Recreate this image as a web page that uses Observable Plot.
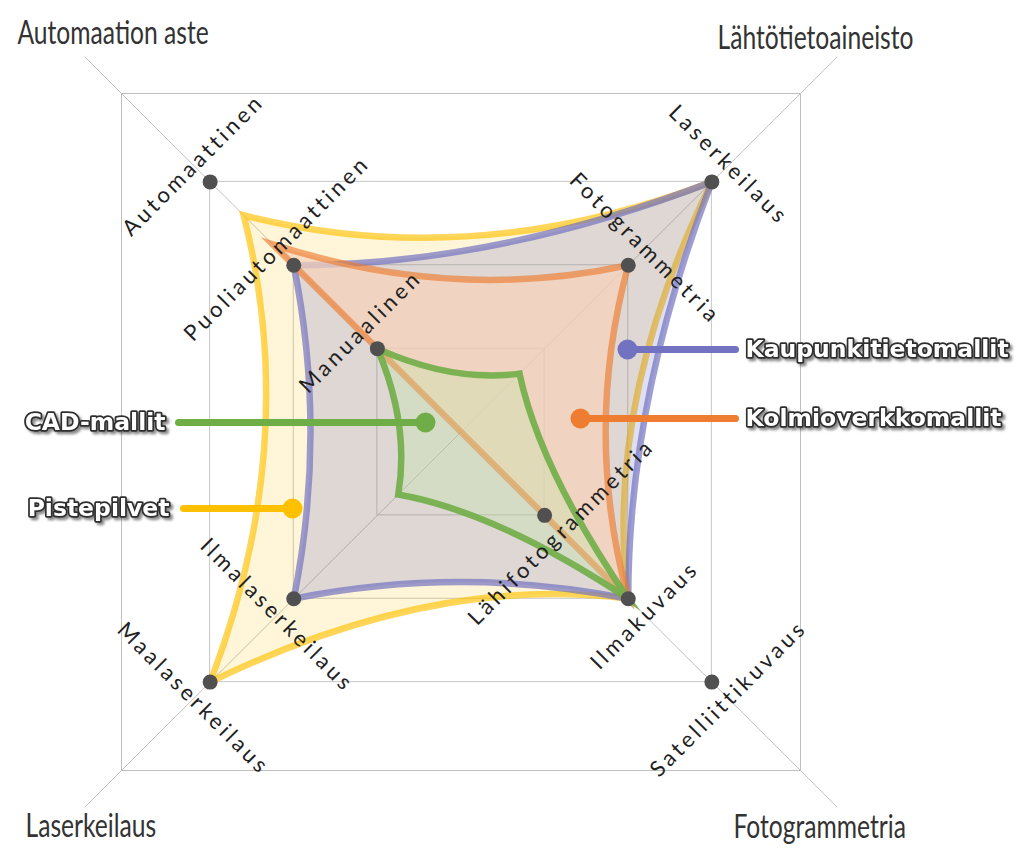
<!DOCTYPE html>
<html>
<head>
<meta charset="utf-8">
<script src="https://cdn.jsdelivr.net/npm/d3@7"></script>
<script src="https://cdn.jsdelivr.net/npm/@observablehq/plot@0.6"></script>
<style>
html, body { margin: 0; padding: 0; background: #fff; }
</style>
</head>
<body>
<div id="chart"></div>
<script>
// ---------------- DATA ----------------
// the four diagonal axes, in drawing order NW, NE, SE, SW
const axisNames = ["Automaation aste", "Lähtötietoaineisto", "Fotogrammetria", "Laserkeilaus"];
// categories (points on the axes) and their level on the axis
const categories = ["Automaattinen", "Puoliautomaattinen", "Manuaalinen",
  "Laserkeilaus", "Fotogrammetria",
  "Satelliittikuvaus", "Ilmakuvaus", "Lähifotogrammetria",
  "Maalaserkeilaus", "Ilmalaserkeilaus"];
const categoryAxis = ["Automaation aste", "Automaation aste", "Automaation aste",
  "Lähtötietoaineisto", "Lähtötietoaineisto",
  "Fotogrammetria", "Fotogrammetria", "Fotogrammetria",
  "Laserkeilaus", "Laserkeilaus"];
const categoryLevel = [3, 2, 1, 3, 2, 3, 2, 1, 3, 2];
// series values, one per axis (NW, NE, SE, SW)
const seriesNames = ["Pistepilvet", "Kaupunkitietomallit", "Kolmioverkkomallit", "CAD-mallit"];
const pistepilvet = [2.6, 3, 2, 3];
const kaupunkitietomallit = [2, 3, 2, 2];
const kolmioverkkomallit = [2.25, 2, 2, 0];
const cadMallit = [1, 0.7, 2, 0.75];
const gridLevels = [1, 2, 3];

// ---------------- LAYOUT ----------------
const W = 1024, H = 859, ML = 121, MR = 224, MT = 93, MB = 89, LMAX = 4.06;
const UX = (W - ML - MR) / (2 * LMAX), UY = (H - MT - MB) / (2 * LMAX);
const CX = ML + (W - ML - MR) / 2, CY = MT + (H - MT - MB) / 2;
const dataX = px => (px - CX) / UX;
const dataY = py => (CY - py) / UY;
const DIR = {
  "Automaation aste": [-1, 1], "Lähtötietoaineisto": [1, 1],
  "Fotogrammetria": [1, -1], "Laserkeilaus": [-1, -1]
};
const ROT = {"Automaation aste": -45, "Lähtötietoaineisto": 45, "Fotogrammetria": -45, "Laserkeilaus": 45};

// closed curve with concave quadratic segments pulled toward the centre
function concaveClosed(sag) {
  return function (context) {
    let pts = [];
    return {
      areaStart() {}, areaEnd() {},
      lineStart() { pts = []; },
      point(x, y) { pts.push([+x, +y]); },
      lineEnd() {
        const n = pts.length;
        if (!n) return;
        context.moveTo(pts[0][0], pts[0][1]);
        for (let i = 0; i < n; i++) {
          const [x0, y0] = pts[i], [x1, y1] = pts[(i + 1) % n];
          const mx = (x0 + x1) / 2, my = (y0 + y1) / 2;
          context.quadraticCurveTo(mx + sag * (CX - mx), my + sag * (CY - my), x1, y1);
        }
        context.closePath();
      }
    };
  };
}

const seriesValues = [pistepilvet, kaupunkitietomallit, kolmioverkkomallit, cadMallit];
const seriesStyle = [
  {stroke: "#FFC000", so: 0.65, fill: "#FFC000", fo: 0.15, sag: 0.32},
  {stroke: "#7474C0", so: 0.7, fill: "#5A60C0", fo: 0.2, sag: 0.2},
  {stroke: "#ED7D31", so: 0.65, fill: "#F7D3BA", fo: 0.72, sag: 0.27},
  {stroke: "#70AD47", so: 0.9, fill: "#C0E8A8", fo: 0.3, sag: 0.3}
];

const categoryRecords = categories.map((c, i) => ({name: c, axis: categoryAxis[i], level: categoryLevel[i]}));

const legendLayout = [
  {name: "Kaupunkitietomallit", dot: [627, 349], end: [735, 349], tx: 745, anchor: "start", color: "#7272C0"},
  {name: "Kolmioverkkomallit", dot: [580, 418], end: [735, 418], tx: 745, anchor: "start", color: "#EE7D31"},
  {name: "CAD-mallit", dot: [425, 422], end: [178, 422], tx: 165, anchor: "end", color: "#6FAD47"},
  {name: "Pistepilvet", dot: [292, 508], end: [183, 508], tx: 169, anchor: "end", color: "#FFC000"}
];
const titleLayout = [
  {text: axisNames[0], px: 17, py: 43},
  {text: axisNames[1], px: 717, py: 48},
  {text: axisNames[3], px: 25, py: 836},
  {text: axisNames[2], px: 733, py: 837}
];

const LABEL_FONT = "Lato";
const TITLE_FONT = "Lato, sans-serif";
const LEGEND_FONT = "DejaVu Sans";

const marks = [];
marks.push(Plot.frame({stroke: "#bfbfbf"}));
marks.push(Plot.rect(gridLevels, {x1: d => -d, x2: d => d, y1: d => -d, y2: d => d, fill: "none", stroke: "#c6c6c6"}));
marks.push(Plot.link(axisNames, {x1: () => 0, y1: () => 0, x2: d => DIR[d][0] * 4.5, y2: d => DIR[d][1] * 4.5, stroke: "#c2c2c2", strokeWidth: 1}));

seriesValues.forEach((vals, si) => {
  const verts = axisNames.map((a, i) => ({axis: a, v: vals[i]}));
  const s = seriesStyle[si];
  marks.push(Plot.line(verts, {
    x: d => DIR[d.axis][0] * d.v, y: d => DIR[d.axis][1] * d.v,
    curve: concaveClosed(s.sag),
    stroke: s.stroke, strokeOpacity: s.so, strokeWidth: 6.5,
    fill: s.fill, fillOpacity: s.fo,
    strokeLinejoin: "miter", strokeMiterlimit: 10, strokeLinecap: "butt"
  }));
});

marks.push(Plot.dot(categoryRecords, {
  x: d => DIR[d.axis][0] * d.level, y: d => DIR[d.axis][1] * d.level,
  r: 7.5, fill: "#505050"
}));

marks.push(Plot.text(categoryRecords, {
  x: d => DIR[d.axis][0] * (d.level + 0.2), y: d => DIR[d.axis][1] * (d.level + 0.2),
  text: d => d.name, rotate: d => ROT[d.axis],
  fontFamily: LABEL_FONT, fontSize: 22, fill: "#1f1f1f"
}));

legendLayout.forEach(L => {
  marks.push(Plot.link([L], {
    x1: d => dataX(d.dot[0]), y1: d => dataY(d.dot[1]), x2: d => dataX(d.end[0]), y2: d => dataY(d.end[1]),
    stroke: L.color, strokeWidth: 7, strokeLinecap: "round"
  }));
  marks.push(Plot.dot([L], {x: d => dataX(d.dot[0]), y: d => dataY(d.dot[1]), r: 10, fill: L.color}));
  marks.push(Plot.text([L], {
    x: d => dataX(d.tx), y: d => dataY(d.dot[1]), text: d => d.name, textAnchor: L.anchor,
    fontFamily: LEGEND_FONT, fontWeight: "bold", fontSize: 23.5,
    fill: "#ffffff", stroke: "#2e2e2e", strokeWidth: 3.5
  }));
});

marks.push(Plot.text(titleLayout, {
  x: d => dataX(d.px), y: d => dataY(d.py), text: d => d.text,
  textAnchor: "start", lineAnchor: "bottom",
  fontFamily: TITLE_FONT, fontSize: 32, fill: "#333333"
}));

const chart = Plot.plot({
  width: W, height: H,
  marginLeft: ML, marginRight: MR, marginTop: MT, marginBottom: MB,
  x: {domain: [-LMAX, LMAX], axis: null},
  y: {domain: [-LMAX, LMAX], axis: null},
  style: {background: "#fff", overflow: "visible"},
  marks
});
document.getElementById("chart").append(chart);

// ---- post styling: letter spacing, condensed titles, legend shadow ----
const svg = d3.select(chart);
svg.selectAll(`g[font-family="${LABEL_FONT}"] text`).style("letter-spacing", "3.5px");

function posOf(el) {
  const t = d3.select(el);
  const tr = t.attr("transform");
  if (tr) {
    const m = /translate\(\s*([-\d.e]+)[ ,]+([-\d.e]+)\s*\)/.exec(tr);
    if (m) return [+m[1], +m[2]];
  }
  return [+(t.attr("x") || 0), +(t.attr("y") || 0)];
}
svg.selectAll(`g[font-family="${TITLE_FONT}"] text`).each(function () {
  const [x, y] = posOf(this);
  d3.select(this).attr("x", null).attr("y", null)
    .attr("transform", `translate(${x},${y}) scale(0.77,1)`);
});

const defs = svg.insert("defs", ":first-child");
const f = defs.append("filter").attr("id", "legendShadow")
  .attr("x", "-10%").attr("y", "-40%").attr("width", "130%").attr("height", "190%");
f.append("feDropShadow").attr("dx", 2.5).attr("dy", 2.5).attr("stdDeviation", 1.2)
  .attr("flood-color", "#000").attr("flood-opacity", 0.45);
svg.selectAll(`g[font-family="${LEGEND_FONT}"]`).attr("filter", "url(#legendShadow)");
</script>
</body>
</html>
